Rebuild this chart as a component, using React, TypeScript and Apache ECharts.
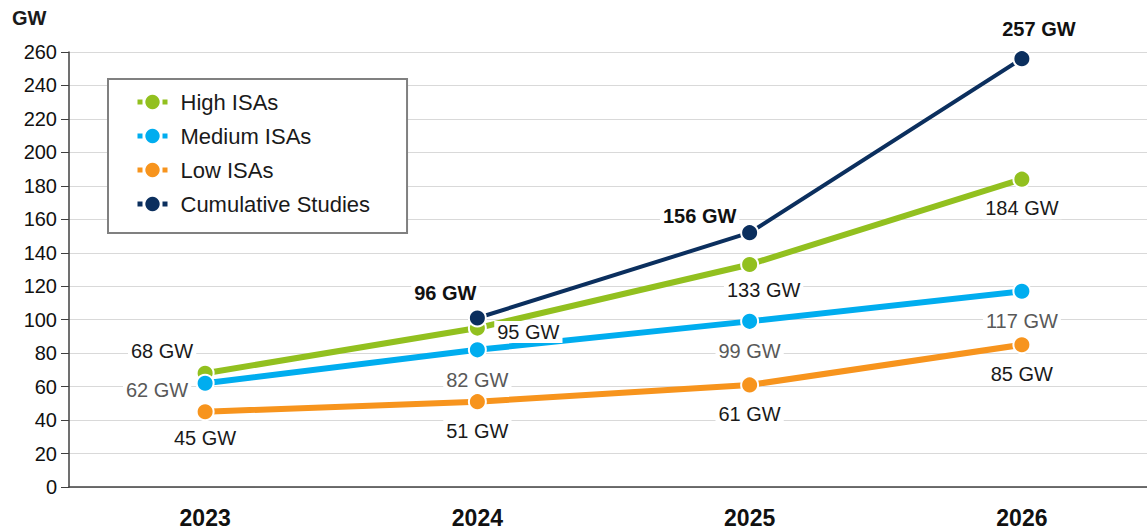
import React, { useEffect, useRef } from "react";
import * as echarts from "echarts";

const years = ["2023", "2024", "2025", "2026"];
const yTicks = { min: 0, max: 260, interval: 20 };

const highISAs = [68, 95, 133, 184];
const mediumISAs = [62, 82, 99, 117];
const lowISAs = [45, 51, 61, 85];
const cumulativeStudies = [null, 101, 152, 256];

const highLabels = ["68 GW", "95 GW", "133 GW", "184 GW"];
const mediumLabels = ["62 GW", "82 GW", "99 GW", "117 GW"];
const lowLabels = ["45 GW", "51 GW", "61 GW", "85 GW"];
const cumulativeLabels = ["", "96 GW", "156 GW", "257 GW"];

const FONT = "'Liberation Sans', Arial, Helvetica, sans-serif";

export default function App() {
  const ref = useRef<HTMLDivElement>(null);

  useEffect(() => {
    if (!ref.current) return;
    const chart = echarts.init(ref.current, undefined, { renderer: "svg" });

    const mk = (
      name: string,
      values: (number | null)[],
      labels: string[],
      color: string,
      lineWidth: number,
      labelColor: string,
      bold: boolean,
      offsets: number[][]
    ) => ({
      name,
      type: "line",
      data: values.map((v, i) => ({
        value: v,
        label: {
          show: v !== null && labels[i] !== "",
          formatter: labels[i],
          position: "inside",
          offset: offsets[i],
        },
      })),
      symbol: "circle",
      symbolSize: 17,
      lineStyle: { color, width: lineWidth },
      itemStyle: { color, borderColor: "#ffffff", borderWidth: 2 },
      label: {
        show: true,
        color: labelColor,
        fontSize: 20,
        fontWeight: bold ? "bold" : "normal",
        fontFamily: FONT,
        backgroundColor: "#ffffff",
        padding: [1, 3],
      },
      emphasis: { disabled: true },
      z: name === "Cumulative Studies" ? 5 : 3,
    });

    chart.setOption({
      animation: false,
      textStyle: { fontFamily: FONT },
      graphic: [
        {
          type: "text",
          left: 12,
          top: 8,
          style: {
            text: "GW",
            fontSize: 20,
            fontWeight: "bold",
            fontFamily: FONT,
            fill: "#1a1a1a",
          },
        },
      ],
      legend: {
        orient: "vertical",
        left: 108,
        top: 79,
        padding: [12, 37, 18, 27],
        itemGap: 12,
        itemWidth: 30,
        itemHeight: 18,
        borderColor: "#808080",
        borderWidth: 2,
        backgroundColor: "#ffffff",
        itemStyle: { borderWidth: 0 },
        lineStyle: { width: 5, type: [5, 20] },
        textStyle: {
          fontSize: 22,
          color: "#1a1a1a",
          fontFamily: FONT,
          padding: [0, 0, 0, 8],
        },
        data: ["High ISAs", "Medium ISAs", "Low ISAs", "Cumulative Studies"],
      },
      grid: { left: 69, right: 0, top: 52, bottom: 45 },
      xAxis: {
        type: "category",
        data: years,
        boundaryGap: true,
        axisLine: { lineStyle: { color: "#404040", width: 1.5 } },
        axisTick: { show: false },
        axisLabel: {
          fontSize: 23,
          fontWeight: "bold",
          color: "#111111",
          margin: 19,
          fontFamily: "'Liberation Sans Narrow', 'Liberation Sans', Arial, sans-serif",
        },
        splitLine: { show: false },
      },
      yAxis: {
        type: "value",
        min: yTicks.min,
        max: yTicks.max,
        interval: yTicks.interval,
        axisLine: { show: true, lineStyle: { color: "#404040", width: 1.5 } },
        axisTick: { show: true, length: 8, lineStyle: { color: "#404040" } },
        axisLabel: {
          fontSize: 20,
          color: "#111111",
          margin: 12,
          fontFamily: FONT,
        },
        splitLine: { show: true, lineStyle: { color: "#d9d9d9", width: 1 } },
      },
      series: [
        mk("High ISAs", highISAs, highLabels, "#92c01f", 6, "#1a1a1a", false, [
          [-43, -22],
          [51, 4],
          [14, 26],
          [0, 29],
        ]),
        mk("Medium ISAs", mediumISAs, mediumLabels, "#00adef", 6, "#595959", false, [
          [-48, 7],
          [0, 30],
          [0, 30],
          [0, 30],
        ]),
        mk("Low ISAs", lowISAs, lowLabels, "#f7941d", 6, "#1a1a1a", false, [
          [0, 26],
          [0, 29],
          [0, 29],
          [0, 29],
        ]),
        mk("Cumulative Studies", cumulativeStudies, cumulativeLabels, "#0b2f5e", 4, "#111111", true, [
          [0, 0],
          [-32, -25],
          [-50, -17],
          [17, -30],
        ]),
      ],
    });

    return () => chart.dispose();
  }, []);

  return (
    <div
      style={{
        position: "absolute",
        left: 0,
        top: 0,
        width: 1147,
        height: 532,
        overflow: "hidden",
        background: "#ffffff",
      }}
    >
      <div ref={ref} style={{ width: 1158, height: 532 }} />
    </div>
  );
}
